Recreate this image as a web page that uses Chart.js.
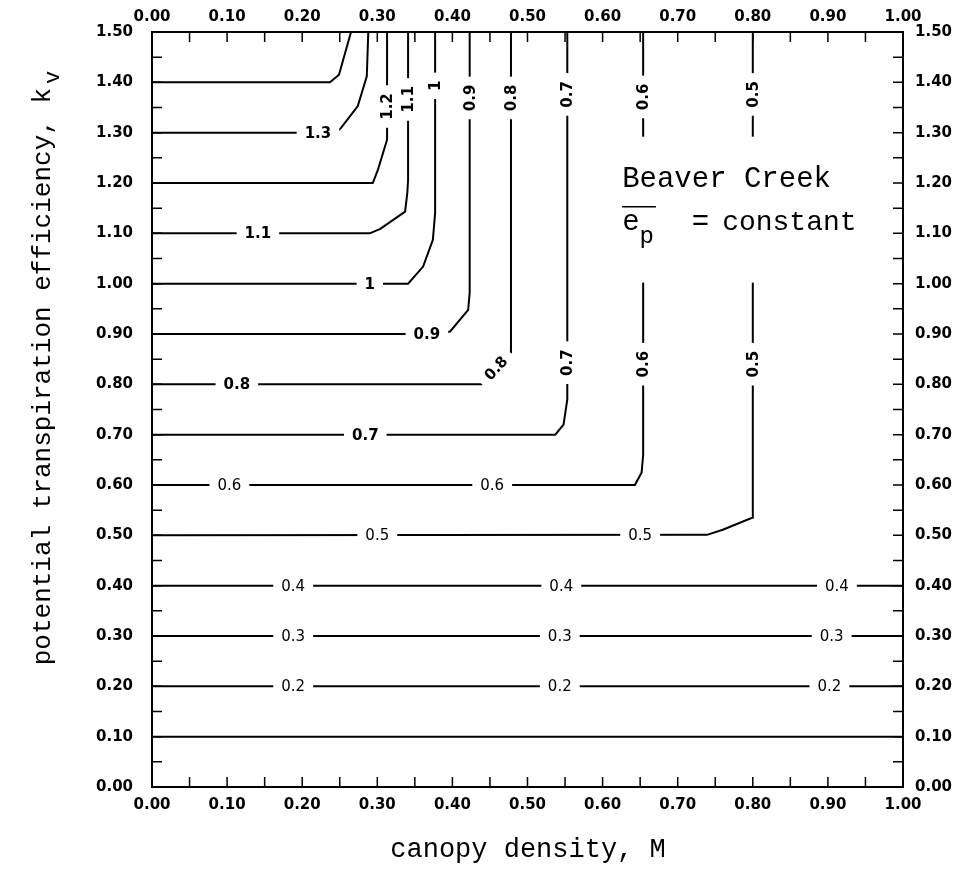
<!DOCTYPE html>
<html>
<head>
<meta charset="utf-8">
<script src="https://cdn.jsdelivr.net/npm/chart.js@4.4.1/dist/chart.umd.min.js"></script>
<style>
  html, body { margin: 0; padding: 0; background: #fff; }
  canvas { display: block; }
</style>
</head>
<body>
<canvas id="chart" width="958" height="893"></canvas>
<script>
const xTickLabels = ["0.00", "0.10", "0.20", "0.30", "0.40", "0.50", "0.60", "0.70", "0.80", "0.90", "1.00"];
const yTickLabels = ["0.00", "0.10", "0.20", "0.30", "0.40", "0.50", "0.60", "0.70", "0.80",
  "0.90", "1.00", "1.10", "1.20", "1.30", "1.40", "1.50"];

// contour vertices as [M, kv]
const level01 = [[0, 0.1], [1, 0.1]];
const level02 = [[0, 0.2], [1, 0.2]];
const level03 = [[0, 0.3], [1, 0.3]];
const level04 = [[0, 0.4], [1, 0.4]];
const level05 = [[0, 0.5], [0.739, 0.501], [0.760, 0.511], [0.799, 0.535], [0.800, 0.6], [0.800, 1.5]];
const level06 = [[0, 0.6], [0.643, 0.6], [0.652, 0.625], [0.654, 0.66], [0.654, 1.5]];
const level07 = [[0, 0.7], [0.537, 0.7], [0.548, 0.72], [0.553, 0.77], [0.553, 1.5]];
const level08 = [[0, 0.8], [0.439, 0.8], [0.458, 0.83], [0.477, 0.863], [0.478, 0.9], [0.478, 1.5]];
const level09 = [[0, 0.9], [0.37, 0.9], [0.397, 0.905], [0.421, 0.948], [0.423, 0.982], [0.423, 1.5]];
const level10 = [[0, 1.0], [0.341, 1.0], [0.361, 1.034], [0.374, 1.087], [0.377, 1.141], [0.377, 1.5]];
const level11 = [[0, 1.1], [0.290, 1.1], [0.304, 1.109], [0.337, 1.143], [0.340, 1.181], [0.341, 1.207], [0.341, 1.5]];
const level12 = [[0, 1.2], [0.294, 1.2], [0.301, 1.227], [0.313, 1.286], [0.313, 1.5]];
const level13 = [[0, 1.3], [0.245, 1.3], [0.252, 1.31], [0.274, 1.353], [0.286, 1.412], [0.288, 1.5]];
const level14 = [[0, 1.4], [0.237, 1.4], [0.249, 1.415], [0.265, 1.5]];

const contours = [level01, level02, level03, level04, level05, level06, level07,
  level08, level09, level10, level11, level12, level13, level14];

// inline labels: [text, M, kv, angle in degrees]
const contourLabels = [
  ["0.2", 0.188, 0.2, 0], ["0.2", 0.543, 0.2, 0], ["0.2", 0.902, 0.2, 0],
  ["0.3", 0.188, 0.3, 0], ["0.3", 0.543, 0.3, 0], ["0.3", 0.905, 0.3, 0],
  ["0.4", 0.188, 0.4, 0], ["0.4", 0.545, 0.4, 0], ["0.4", 0.912, 0.4, 0],
  ["0.5", 0.300, 0.5, 0], ["0.5", 0.650, 0.5, 0], ["0.5", 0.800, 0.84, -90], ["0.5", 0.800, 1.376, -90],
  ["0.6", 0.103, 0.6, 0], ["0.6", 0.453, 0.6, 0], ["0.6", 0.654, 0.84, -90], ["0.6", 0.654, 1.371, -90],
  ["0.7", 0.284, 0.7, 0], ["0.7", 0.553, 0.843, -90], ["0.7", 0.553, 1.376, -90],
  ["0.8", 0.113, 0.8, 0], ["0.8", 0.458, 0.832, -48], ["0.8", 0.478, 1.369, -90],
  ["0.9", 0.366, 0.9, 0], ["0.9", 0.423, 1.369, -90],
  ["1", 0.290, 1.0, 0], ["1", 0.377, 1.393, -90],
  ["1.1", 0.141, 1.1, 0], ["1.1", 0.341, 1.366, -90],
  ["1.2", 0.313, 1.352, -90],
  ["1.3", 0.221, 1.3, 0]
];

const tickFont = { family: "DejaVu Sans", size: 15, weight: "bold" };
const titleFamily = '"Liberation Mono", monospace';

const overlay = {
  id: "overlay",
  afterDatasetsDraw(chart) {
    const { ctx, scales: { x, y } } = chart;
    ctx.save();

    // backdrop for the site note
    const bx0 = x.getPixelForValue(0.60), bx1 = x.getPixelForValue(0.98);
    const by0 = y.getPixelForValue(1.292), by1 = y.getPixelForValue(1.002);
    ctx.fillStyle = "#fff";
    ctx.fillRect(bx0, by0, bx1 - bx0, by1 - by0);

    // contour labels cut into their lines
    contourLabels.forEach(([text, m, k, angle]) => {
      const px = x.getPixelForValue(m);
      const py = y.getPixelForValue(k);
      ctx.save();
      ctx.translate(px, py);
      ctx.rotate(angle * Math.PI / 180);
      ctx.font = (k >= 0.7 || angle) ? 'bold 15px "DejaVu Sans"' : '15px "DejaVu Sans"';
      const w = ctx.measureText(text).width;
      ctx.fillStyle = "#fff";
      ctx.fillRect(-w / 2 - 8, -7, w + 16, 14);
      ctx.fillStyle = "#000";
      ctx.textAlign = "center";
      ctx.textBaseline = "middle";
      ctx.fillText(text, 0, 1);
      ctx.restore();
    });

    // site note
    const x0 = x.getPixelForValue(0.626);
    const adv = 17.4;
    const base1 = y.getPixelForValue(1.193);
    const base2 = y.getPixelForValue(1.107);
    ctx.fillStyle = "#000";
    ctx.textAlign = "left";
    ctx.textBaseline = "alphabetic";
    ctx.font = "29px " + titleFamily;
    ctx.fillText("Beaver Creek", x0, base1);
    ctx.fillText("e", x0, base2);
    ctx.fillText("=", x0 + 4 * adv, base2);
    ctx.font = "28px " + titleFamily;
    ctx.fillText("constant", x0 + 100, base2);
    ctx.font = "24px " + titleFamily;
    ctx.fillText("p", x0 + adv, base2 + 13);
    ctx.strokeStyle = "#000";
    ctx.lineWidth = 1.5;
    ctx.beginPath();
    ctx.moveTo(x0, base2 - 23);
    ctx.lineTo(x0 + 2 * adv - 1, base2 - 23);
    ctx.stroke();

    ctx.restore();
  },
  afterDraw(chart) {
    const { ctx, chartArea: a, scales: { x, y } } = chart;
    ctx.save();
    ctx.strokeStyle = "#000";

    // frame
    ctx.lineWidth = 2;
    ctx.strokeRect(a.left, a.top, a.right - a.left, a.bottom - a.top);

    // inward ticks every 0.05
    ctx.lineWidth = 1.5;
    ctx.beginPath();
    for (let i = 1; i < 20; i++) {
      const px = x.getPixelForValue(i * 0.05);
      ctx.moveTo(px, a.bottom); ctx.lineTo(px, a.bottom - 10);
      ctx.moveTo(px, a.top); ctx.lineTo(px, a.top + 10);
    }
    for (let j = 1; j < 30; j++) {
      const py = y.getPixelForValue(j * 0.05);
      ctx.moveTo(a.left, py); ctx.lineTo(a.left + 10, py);
      ctx.moveTo(a.right, py); ctx.lineTo(a.right - 10, py);
    }
    ctx.stroke();

    // axis titles
    ctx.fillStyle = "#000";
    ctx.textBaseline = "alphabetic";
    ctx.font = "27px " + titleFamily;
    ctx.textAlign = "center";
    ctx.fillText("canopy density, M", 528, 857);

    ctx.font = "26px " + titleFamily;
    const mainText = "potential transpiration efficiency, k";
    const mainW = ctx.measureText(mainText).width;
    ctx.font = "22px " + titleFamily;
    const subW = ctx.measureText("v").width;
    ctx.translate(50, 368);
    ctx.rotate(-Math.PI / 2);
    ctx.textAlign = "left";
    const start = -(mainW + subW + 4) / 2;
    ctx.font = "26px " + titleFamily;
    ctx.fillText(mainText, start, 0);
    ctx.font = "22px " + titleFamily;
    ctx.fillText("v", start + mainW + 4, 9);
    ctx.restore();
  }
};

const hidden = { display: false, drawTicks: false };

new Chart(document.getElementById("chart"), {
  type: "scatter",
  data: {
    datasets: contours.map((pts) => ({
      data: pts.map(([m, k]) => ({ x: m, y: k })),
      showLine: true,
      borderColor: "#000",
      borderWidth: 2,
      pointRadius: 0,
      tension: 0,
      fill: false
    }))
  },
  options: {
    responsive: false,
    animation: false,
    layout: { padding: 0 },
    plugins: { legend: { display: false }, tooltip: { enabled: false } },
    scales: {
      x: {
        type: "linear", position: "bottom", min: 0, max: 1,
        grid: hidden, border: { display: false },
        ticks: { stepSize: 0.1, autoSkip: false, maxRotation: 0, padding: 9, color: "#000", font: tickFont,
          callback: (v, i) => xTickLabels[i] },
        afterFit: (s) => { s.height = 106; }
      },
      x2: {
        type: "linear", position: "top", min: 0, max: 1,
        grid: hidden, border: { display: false },
        ticks: { stepSize: 0.1, autoSkip: false, maxRotation: 0, padding: 6, color: "#000", font: tickFont,
          callback: (v, i) => xTickLabels[i] },
        afterFit: (s) => { s.height = 32; }
      },
      y: {
        type: "linear", position: "left", min: 0, max: 1.5,
        grid: hidden, border: { display: false },
        ticks: { stepSize: 0.1, autoSkip: false, padding: 19, color: "#000", font: tickFont,
          callback: (v, i) => yTickLabels[i] },
        afterFit: (s) => { s.width = 152; }
      },
      y2: {
        type: "linear", position: "right", min: 0, max: 1.5,
        grid: hidden, border: { display: false },
        ticks: { stepSize: 0.1, autoSkip: false, padding: 12, color: "#000", font: tickFont,
          callback: (v, i) => yTickLabels[i] },
        afterFit: (s) => { s.width = 55; }
      }
    }
  },
  plugins: [overlay]
});
</script>
</body>
</html>
